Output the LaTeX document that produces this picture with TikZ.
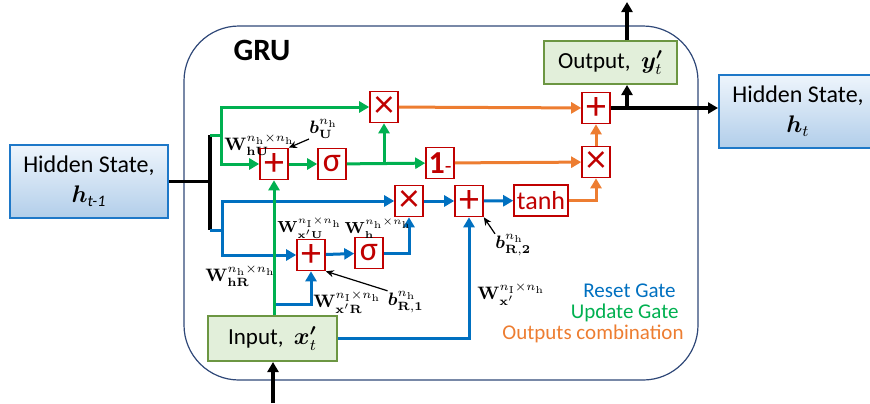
\documentclass[tikz,border=0pt]{standalone}
\usepackage[no-math]{fontspec}
\setmainfont{Carlito}
\usepackage{amsmath}
\usepackage{bm}
\usetikzlibrary{arrows.meta}

\definecolor{gruline}{RGB}{47,72,120}
\definecolor{hsborder}{RGB}{30,120,200}
\definecolor{hstop}{RGB}{238,245,252}
\definecolor{hsbot}{RGB}{178,206,234}
\definecolor{ioborder}{RGB}{108,150,66}
\definecolor{iofill}{RGB}{226,239,218}
\definecolor{opred}{RGB}{192,0,0}
\definecolor{resetblue}{RGB}{0,112,192}
\definecolor{updgreen}{RGB}{0,176,80}
\definecolor{outorange}{RGB}{237,125,49}

\begin{document}
\begin{tikzpicture}[x=0.5pt,y=0.5pt,yscale=-1,
  op/.style={draw=opred,line width=0.8pt,fill=white,text=opred,inner sep=0pt,
    minimum width=14pt,minimum height=15.5pt,font=\fontsize{20}{20}\selectfont},
  hsbox/.style={draw=hsborder,line width=1pt,top color=hstop,bottom color=hsbot,
    minimum width=79pt,minimum height=36.5pt,inner sep=0pt,align=center,
    font=\fontsize{12}{15}\selectfont},
  iobox/.style={draw=ioborder,line width=1pt,fill=iofill,inner sep=0pt,
    font=\fontsize{11.5}{14}\selectfont},
  tip/.style={-{Triangle[length=5pt,width=5.5pt]}},
  gline/.style={draw=updgreen,line width=1.5pt},
  bline/.style={draw=resetblue,line width=1.5pt},
  oline/.style={draw=outorange,line width=1.5pt},
  kline/.style={draw=black,line width=1.8pt},
  wlabel/.style={inner sep=0pt,anchor=west,font=\fontsize{9}{10}\selectfont},
  wsmall/.style={wlabel,font=\fontsize{7.6}{9}\selectfont},
  ptr/.style={-{Stealth[length=4pt,width=3.5pt]},line width=0.6pt},
  legend/.style={anchor=base east,inner sep=0pt,font=\fontsize{10.5}{12}\selectfont}
]
\path[use as bounding box,clip] (0,0) rectangle (870,403);

%Shape: GRU cell
\draw[gruline,line width=0.6pt,rounded corners=27.5pt] (184,26) rectangle (698,380);
% Text Node
\node[font=\fontsize{15.5}{16}\selectfont\bfseries] (gruname) at (262,50) {GRU};

% In / out boxes
\node[hsbox] (hprev) at (89,181.5) {Hidden State,\\$\bm{h}$\textsubscript{\itshape t-1}};
\node[hsbox] (hnext) at (798,111) {Hidden State,\\$\bm{h}_{t}$};
\node[iobox,minimum width=66.5pt,minimum height=21.5pt] (outp) at (610.5,62.5) {Output,~ $\bm{y'}_{t}$};
\node[iobox,minimum width=64.5pt,minimum height=22.5pt] (inp) at (272.5,338.5) {Input,~ $\bm{x'}_{t}$};

% Operations
\node[op] (mulU) at (384,107) {×};
\node[op] (addU) at (274,164) {+};
\node[op,font=\fontsize{17}{17}\selectfont] (sigU) at (332,164) {σ};
\node[op,font=\fontsize{16}{16}\selectfont] (onem) at (440,163) {\textbf{1}{\fontsize{11}{11}\selectfont -}};
\node[op] (addO) at (596,108) {+};
\node[op] (mulO) at (596,162) {×};
\node[op] (mulR) at (409,201) {×};
\node[op] (addR2) at (469,201) {+};
\node[op,minimum width=27pt,font=\fontsize{13}{13}\selectfont] (tanhR) at (541,200.5) {tanh};
\node[op] (addR1) at (311,255) {+};
\node[op,font=\fontsize{17}{17}\selectfont] (sigR) at (369,253) {σ};

\coordinate (bartop) at (210,135);
\coordinate (barbot) at (210,230);
\coordinate (gj) at (221,135);
\coordinate (bj) at (222,230);
\coordinate (gsplit) at (384,163);
\coordinate (bjoin) at (274,304);
\coordinate (ybr) at (627,108);
\coordinate (xin) at (273,403);

%Straight Lines: previous hidden state
\draw[kline] (hprev.east) -- (hprev.east -| bartop);
\draw[kline] (bartop) -- (barbot);

%Straight Lines: reset gate
\draw[bline] (barbot) -- (bj);
\draw[bline,tip] (bj) |- (mulR);
\draw[bline,tip] (bj) |- (addR1);
\draw[bline,tip] (addR1) -- (sigR);
\draw[bline,tip] (sigR) -| (mulR);
\draw[bline,tip] (bjoin) -| (addR1);
\draw[bline,tip] (inp.east) -| (addR2);
\draw[bline,tip] (mulR) -- (addR2);
\draw[bline,tip] (addR2) -- (tanhR);

%Straight Lines: update gate
\draw[gline] (bartop) -- (gj);
\draw[gline,tip] (gj) |- (mulU);
\draw[gline,tip] (gj) |- (addU);
\draw[gline,tip] (addU) -- (sigU);
\draw[gline,tip] (sigU) -- (onem);
\draw[gline,tip] (gsplit) -- (mulU);
\draw[gline,tip] (addU |- inp.north) -- (addU);

%Straight Lines: outputs combination
\draw[oline,tip] (mulU) -- (addO);
\draw[oline,tip] (onem) -- (mulO);
\draw[oline,tip] (tanhR) -| (mulO);
\draw[oline,tip] (mulO) -- (addO);

%Straight Lines: outputs
\draw[kline,tip] (addO) -- (addO -| hnext.west);
\draw[kline,tip] (ybr) -- (ybr |- outp.south);
\draw[kline,tip] (ybr |- outp.north) -- (627,2);
\draw[kline,tip] (xin) -- (xin |- inp.south);

% Text Node: weights and biases
\node[wlabel] (lWhU) at (224,145) {$\mathbf{W}_{\mathbf{hU}}^{n_{\mathrm{h}}\times n_{\mathrm{h}}}$};
\node[wlabel] (lbU) at (309,129) {$\bm{b}_{\mathbf{U}}^{n_{\mathrm{h}}}$};
\draw[ptr] (lbU.south west) -- (addU.north east);
\node[wsmall] (lWxU) at (277,228) {$\mathbf{W}_{\mathbf{x'U}}^{n_{\mathrm{I}}\times n_{\mathrm{h}}}$};
\node[wsmall] (lWh) at ([xshift=1pt]lWxU.east) {$\mathbf{W}_{\mathbf{h}}^{n_{\mathrm{h}}\times n_{\mathrm{h}}}$};
\node[wlabel] (lWhR) at (205,276) {$\mathbf{W}_{\mathbf{hR}}^{n_{\mathrm{h}}\times n_{\mathrm{h}}}$};
\node[wlabel] (lWxR) at (313,302) {$\mathbf{W}_{\mathbf{x'R}}^{n_{\mathrm{I}}\times n_{\mathrm{h}}}$};
\node[wlabel] (lbR1) at ([xshift=3pt]lWxR.east) {$\bm{b}_{\mathbf{R,1}}^{n_{\mathrm{h}}}$};
\draw[ptr] (lbR1.north west) -- (addR1.south east);
\node[wlabel] (lbR2) at (495,245) {$\bm{b}_{\mathbf{R,2}}^{n_{\mathrm{h}}}$};
\draw[ptr] (lbR2.north west) -- (addR2.south east);
\node[wlabel] (lWx) at (477,294) {$\mathbf{W}_{\mathbf{x'}}^{n_{\mathrm{I}}\times n_{\mathrm{h}}}$};

% Text Node: legend
\node[legend,text=resetblue] (legR) at (676,297) {Reset Gate};
\node[legend,text=updgreen] (legU) at (679,318) {Update Gate};
\node[legend,text=outorange] (legO) at (684,339) {Outputs combination};

\end{tikzpicture}
\end{document}
